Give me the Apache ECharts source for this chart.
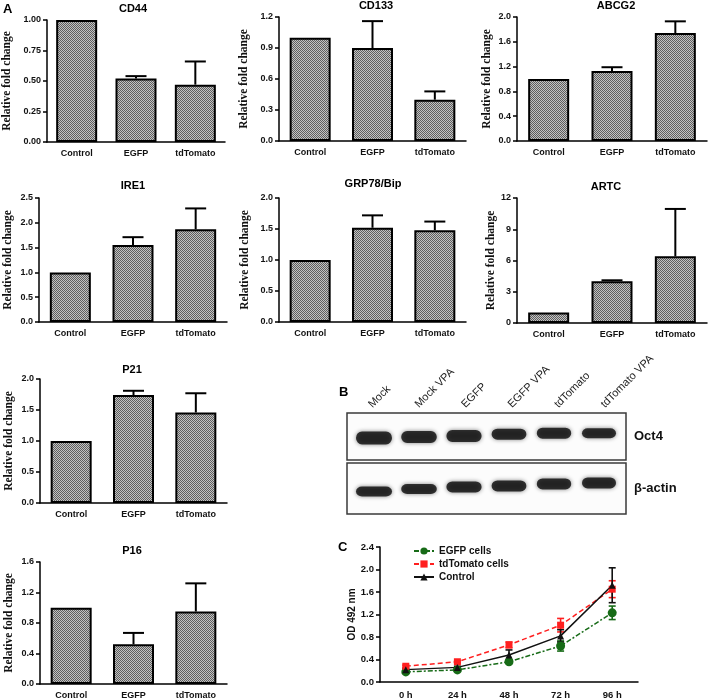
<!DOCTYPE html>
<html><head><meta charset="utf-8">
<script src="https://cdn.jsdelivr.net/npm/echarts@6/dist/echarts.min.js"></script>
<style>html,body{margin:0;padding:0;background:#fff}#c{width:709px;height:700px}</style>
</head><body><div id="c"></div>
<script>
// ---------- data ----------
const groups = ['Control', 'EGFP', 'tdTomato'];
const cd44Mean = [1.00, 0.52, 0.47],  cd44Err = [0, 0.02, 0.19];
const cd133Mean = [1.00, 0.90, 0.40], cd133Err = [0, 0.26, 0.08];
const abcg2Mean = [1.00, 1.13, 1.74], abcg2Err = [0, 0.06, 0.19];
const ire1Mean = [1.00, 1.55, 1.87],  ire1Err = [0, 0.16, 0.42];
const grpMean = [1.00, 1.52, 1.48],   grpErr = [0, 0.20, 0.14];
const artcMean = [1.0, 4.0, 6.4],     artcErr = [0, 0.1, 4.55];
const p21Mean = [1.00, 1.74, 1.46],   p21Err = [0, 0.07, 0.31];
const p16Mean = [1.00, 0.52, 0.95],   p16Err = [0, 0.15, 0.37];
const titles = ['CD44', 'CD133', 'ABCG2', 'IRE1', 'GRP78/Bip', 'ARTC', 'P21', 'P16'];
const yMax = [1.0, 1.2, 2.0, 2.5, 2.0, 12, 2.0, 1.6];
const yStep = [0.25, 0.3, 0.4, 0.5, 0.5, 3, 0.5, 0.4];
const yDec = [2, 1, 1, 1, 1, 0, 1, 1];

const times = ['0 h', '24 h', '48 h', '72 h', '96 h'];
const egfpOD = [0.18, 0.215, 0.36, 0.64, 1.23], egfpODErr = [0.02, 0.02, 0.03, 0.09, 0.12];
const tdOD = [0.28, 0.36, 0.66, 1.01, 1.65],    tdODErr = [0.02, 0.02, 0.05, 0.12, 0.15];
const ctrlOD = [0.22, 0.26, 0.48, 0.82, 1.72],  ctrlODErr = [0.02, 0.02, 0.09, 0.11, 0.31];

const lanes = ['Mock', 'Mock VPA', 'EGFP', 'EGFP VPA', 'tdTomato', 'tdTomato VPA'];
const oct4Pos = [0.47, 0.49, 0.51, 0.55, 0.57, 0.57], oct4Thick = [13, 12, 12, 11, 11, 10];
const actinPos = [0.44, 0.49, 0.53, 0.55, 0.59, 0.61], actinThick = [10, 10, 11, 11, 11, 11];

// ---------- layout ----------
const SANS = '"Liberation Sans", Arial, sans-serif';
const SERIF = '"Liberation Serif", "Times New Roman", serif';
const barLayout = [
  {left: 43, top: 20, width: 182, height: 122, tx: 133, ty: 10, gap: 34},
  {left: 279, top: 17, width: 187, height: 124, tx: 376, ty: 6.5, gap: 29},
  {left: 517, top: 17, width: 190, height: 124, tx: 616, ty: 6.5, gap: 24},
  {left: 39, top: 198, width: 188, height: 124, tx: 133, ty: 187, gap: 25},
  {left: 279, top: 198, width: 187, height: 124, tx: 373, ty: 185, gap: 28},
  {left: 517, top: 198, width: 190, height: 125, tx: 606, ty: 188, gap: 20},
  {left: 40, top: 379, width: 187, height: 124, tx: 132, ty: 371, gap: 25},
  {left: 40, top: 562, width: 187, height: 123, tx: 132, ty: 552, gap: 25}
];
const means = [cd44Mean, cd133Mean, abcg2Mean, ire1Mean, grpMean, artcMean, p21Mean, p16Mean];
const errs = [cd44Err, cd133Err, abcg2Err, ire1Err, grpErr, artcErr, p21Err, p16Err];

function makePattern() {
  const c = document.createElement('canvas'); c.width = 2; c.height = 2;
  const g = c.getContext('2d');
  g.fillStyle = '#c2c2c2'; g.fillRect(0, 0, 2, 2);
  g.fillStyle = '#5e5e5e'; g.fillRect(0, 0, 1, 1); g.fillRect(1, 1, 1, 1);
  return c;
}
const pattern = {image: makePattern(), repeat: 'repeat'};

const grid = [], xAxis = [], yAxis = [], series = [], title = [];
const axisLineStyle = {color: '#000', width: 1.5};

barLayout.forEach((L, i) => {
  grid.push({left: L.left, top: L.top, width: L.width, height: L.height, containLabel: false});
  xAxis.push({type: 'category', gridIndex: i, data: groups, boundaryGap: true,
    axisLine: {lineStyle: axisLineStyle}, axisTick: {alignWithLabel: true, length: 4, lineStyle: {color: '#000', width: 1.5}},
    axisLabel: {fontFamily: SANS, fontWeight: 'bold', fontSize: 9, color: '#111', margin: 7}});
  yAxis.push({type: 'value', gridIndex: i, min: 0, max: yMax[i], interval: yStep[i],
    axisLine: {show: true, lineStyle: axisLineStyle}, axisTick: {show: true, length: 4, lineStyle: {color: '#000', width: 1.5}},
    splitLine: {show: false},
    axisLabel: {fontFamily: SANS, fontWeight: 'bold', fontSize: 9, color: '#111', margin: 6,
      formatter: v => v.toFixed(yDec[i])},
    name: 'Relative fold change', nameLocation: 'middle', nameGap: L.gap,
    nameTextStyle: {fontFamily: SERIF, fontWeight: 'bold', fontSize: 11.5, color: '#111'}});
  series.push({type: 'bar', xAxisIndex: i, yAxisIndex: i, data: means[i], barWidth: 41,
    itemStyle: {color: pattern, borderColor: '#000', borderWidth: 2}, silent: true});
  series.push({type: 'custom', xAxisIndex: i, yAxisIndex: i, encode: {x: 0, y: 1}, z: 5,
    data: means[i].map((m, k) => [k, m, errs[i][k]]),
    renderItem: (params, api) => {
      const e = api.value(2);
      if (!e) return {type: 'group', children: []};
      const p0 = api.coord([api.value(0), api.value(1)]);
      const p1 = api.coord([api.value(0), api.value(1) + e]);
      const st = {stroke: '#000', lineWidth: 2};
      return {type: 'group', children: [
        {type: 'line', shape: {x1: p0[0], y1: p0[1], x2: p1[0], y2: p1[1]}, style: st},
        {type: 'line', shape: {x1: p1[0] - 10.5, y1: p1[1], x2: p1[0] + 10.5, y2: p1[1]}, style: st}
      ]};
    }});
  title.push({text: titles[i], left: L.tx, top: L.ty - 6.5, textAlign: 'center', padding: 0,
    textStyle: {fontFamily: SANS, fontWeight: 'bold', fontSize: 11, color: '#000'}});
});

// ---------- panel C ----------
grid.push({left: 380, top: 547, width: 258, height: 135});
xAxis.push({type: 'category', gridIndex: 8, data: times, boundaryGap: true,
  axisLine: {lineStyle: axisLineStyle}, axisTick: {alignWithLabel: true, length: 4, lineStyle: {color: '#000', width: 1.5}},
  axisLabel: {fontFamily: SANS, fontWeight: 'bold', fontSize: 9.5, color: '#111', margin: 8}});
yAxis.push({type: 'value', gridIndex: 8, min: 0, max: 2.4, interval: 0.4,
  axisLine: {show: true, lineStyle: axisLineStyle}, axisTick: {show: true, length: 4, lineStyle: {color: '#000', width: 1.5}},
  splitLine: {show: false},
  axisLabel: {fontFamily: SANS, fontWeight: 'bold', fontSize: 9.5, color: '#111', margin: 6, formatter: v => v.toFixed(1)},
  name: 'OD 492 nm', nameLocation: 'middle', nameGap: 22,
  nameTextStyle: {fontFamily: SANS, fontWeight: 'bold', fontSize: 10, color: '#111'}});

const cSeries = [
  {name: 'EGFP cells', data: egfpOD, err: egfpODErr, color: '#176b17', type: [5, 2, 2, 2], symbol: 'circle', size: 9},
  {name: 'tdTomato cells', data: tdOD, err: tdODErr, color: '#ff1f1f', type: [5, 3], symbol: 'rect', size: 7},
  {name: 'Control', data: ctrlOD, err: ctrlODErr, color: '#111111', type: 'solid', symbol: 'triangle', size: 7}
];
cSeries.forEach(s => {
  series.push({type: 'custom', xAxisIndex: 8, yAxisIndex: 8, encode: {x: 0, y: 1}, z: 4, silent: true,
    data: s.data.map((m, k) => [k, m, s.err[k]]),
    renderItem: (params, api) => {
      const x = api.value(0), m = api.value(1), e = api.value(2);
      const a = api.coord([x, m - e]), b = api.coord([x, m + e]);
      const st = {stroke: s.color, lineWidth: 1.6};
      return {type: 'group', children: [
        {type: 'line', shape: {x1: a[0], y1: a[1], x2: b[0], y2: b[1]}, style: st},
        {type: 'line', shape: {x1: a[0] - 3.5, y1: a[1], x2: a[0] + 3.5, y2: a[1]}, style: st},
        {type: 'line', shape: {x1: b[0] - 3.5, y1: b[1], x2: b[0] + 3.5, y2: b[1]}, style: st}
      ]};
    }});
  series.push({type: 'line', name: s.name, xAxisIndex: 8, yAxisIndex: 8, data: s.data, z: 5,
    symbol: s.symbol, symbolSize: s.size, showSymbol: true,
    itemStyle: {color: s.color}, lineStyle: {color: s.color, width: 1.5, type: s.type}});
});

// ---------- panel B (blot) ----------
grid.push({left: 347, top: 413, width: 279, height: 47, show: true, borderColor: '#3a3a3a', borderWidth: 1.5, backgroundColor: '#fcfcfc'});
grid.push({left: 347, top: 463, width: 279, height: 51, show: true, borderColor: '#3a3a3a', borderWidth: 1.5, backgroundColor: '#fcfcfc'});
[9, 10].forEach(g => {
  xAxis.push({type: 'value', gridIndex: g, min: -0.6, max: 5.6, show: false});
});
xAxis.push({type: 'category', gridIndex: 9, data: lanes, position: 'top', boundaryGap: true,
  axisLine: {show: false}, axisTick: {show: false},
  axisLabel: {rotate: -45, fontFamily: SANS, fontSize: 11, color: '#222', margin: 7, interval: 0}});
yAxis.push({type: 'value', gridIndex: 9, min: 0, max: 1, position: 'right',
  axisLine: {show: false}, axisTick: {show: false}, axisLabel: {show: false}, splitLine: {show: false},
  name: 'Oct4', nameLocation: 'middle', nameRotate: 0, nameGap: 8,
  nameTextStyle: {fontFamily: SANS, fontWeight: 'bold', fontSize: 13, color: '#111'}});
yAxis.push({type: 'value', gridIndex: 10, min: 0, max: 1, position: 'right',
  axisLine: {show: false}, axisTick: {show: false}, axisLabel: {show: false}, splitLine: {show: false},
  name: 'β-actin', nameLocation: 'middle', nameRotate: 0, nameGap: 8,
  nameTextStyle: {fontFamily: SANS, fontWeight: 'bold', fontSize: 13, color: '#111'}});
const pill = 'path://M6,0 L30,0 A6,5 0 0 1 30,10 L6,10 A6,5 0 0 1 6,0 Z';
[[9, oct4Pos, oct4Thick], [10, actinPos, actinThick]].forEach(([ax, pos, th]) => {
  series.push({type: 'scatter', xAxisIndex: ax, yAxisIndex: ax, silent: true,
    data: pos.map((p, k) => [k, p, th[k]]),
    symbol: pill, symbolKeepAspect: false,
    symbolSize: v => [36 - v[0] * 0.4, v[2]],
    itemStyle: {color: '#0a0a0a', shadowBlur: 4, shadowColor: 'rgba(0,0,0,0.6)'}});
});

// panel letters
[['A', 3, 3], ['B', 339, 386], ['C', 338, 541]].forEach(([t, x, y]) => {
  title.push({text: t, left: x, top: y, padding: 0,
    textStyle: {fontFamily: SANS, fontWeight: 'bold', fontSize: 13, color: '#000'}});
});

const chart = echarts.init(document.getElementById('c'), null, {renderer: 'canvas'});
chart.setOption({
  animation: false,
  backgroundColor: '#fff',
  title, grid, xAxis, yAxis, series,
  legend: {data: cSeries.map(s => s.name), orient: 'vertical', left: 413, top: 546,
    itemWidth: 20, itemHeight: 9, itemGap: 3, padding: 0,
    textStyle: {fontFamily: SANS, fontWeight: 'bold', fontSize: 10, color: '#111'}}
});
</script></body></html>
